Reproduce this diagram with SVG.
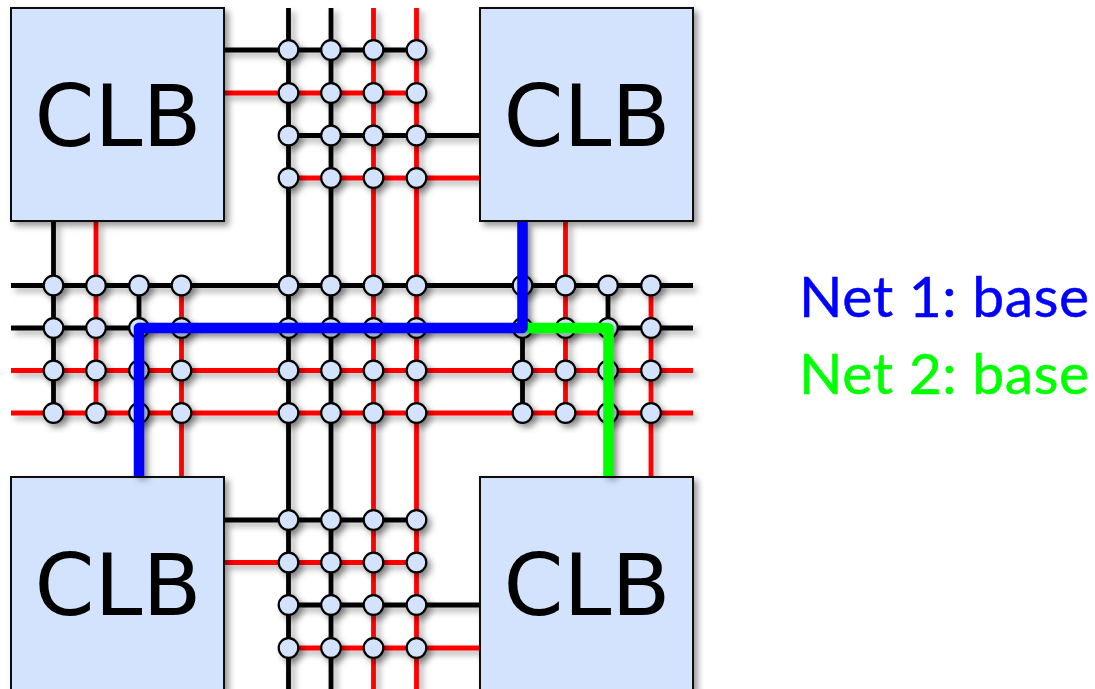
<svg xmlns="http://www.w3.org/2000/svg" width="1095" height="689" viewBox="0 0 1095 689">
<defs>
<filter id="sh" x="-40%" y="-40%" width="190%" height="190%"><feDropShadow dx="4" dy="4" stdDeviation="3" flood-color="#000" flood-opacity="0.4"/></filter>
<filter id="shl" filterUnits="userSpaceOnUse" x="0" y="0" width="1095" height="689"><feDropShadow dx="4" dy="4" stdDeviation="3" flood-color="#000" flood-opacity="0.32"/></filter>
<circle id="j" r="9.8"/>
</defs>
<style>
.k{stroke:#000;stroke-width:4.8;fill:none}
.r{stroke:#f00;stroke-width:4.8;fill:none}
.clb rect{fill:#d3e3fd;stroke:#111;stroke-width:2;filter:url(#sh)}
.clb text{font-family:"DejaVu Sans",sans-serif;font-size:86px;fill:#000;text-anchor:middle}
.sw use{fill:#d3e3fd;stroke:#000;stroke-width:2.2;filter:url(#sh)}
.net{fill:none;stroke-width:10.5;stroke-linejoin:round}
.lab{font-family:Lato,"Open Sans",sans-serif;font-size:57px;stroke-width:0.5}
</style>
<rect width="1095" height="689" fill="#fff"/>
<g id="connectors" filter="url(#shl)">
<path class="k" d="M288.5 8V689M331 8V689M11 285.5H693M11 328H693"/>
<path class="r" d="M373.5 8V689M416.5 8V689M11 370.5H693M11 413H693"/>
<path class="k" d="M224 50H416.5M288.5 135.5H480M224 520H416.5M288.5 605H480M53.500 221V413M139 285.500V477M522.500 221V413M608 285.500V477"/>
<path class="r" d="M224 93H416.500M288.500 178H480M224 562.500H416.500M288.500 648H480M96 221V413M181.500 285.500V477M565.500 221V413M651 285.500V477"/>
</g>
<g id="clb-tl" class="clb"><rect x="11" y="8" width="213" height="213"/><text x="118" y="146">CLB</text></g>
<g id="clb-tr" class="clb"><rect x="480" y="8" width="213" height="213"/><text x="587" y="146">CLB</text></g>
<g id="clb-bl" class="clb"><rect x="11" y="477" width="213" height="213"/><text x="118" y="615">CLB</text></g>
<g id="clb-br" class="clb"><rect x="480" y="477" width="213" height="213"/><text x="587" y="615">CLB</text></g>
<g id="sw-top" class="sw">
<use href="#j" x="288.500" y="50"/><use href="#j" x="331" y="50"/><use href="#j" x="373.500" y="50"/><use href="#j" x="416.500" y="50"/>
<use href="#j" x="288.500" y="93"/><use href="#j" x="331" y="93"/><use href="#j" x="373.500" y="93"/><use href="#j" x="416.500" y="93"/>
<use href="#j" x="288.500" y="135.500"/><use href="#j" x="331" y="135.500"/><use href="#j" x="373.500" y="135.500"/><use href="#j" x="416.500" y="135.500"/>
<use href="#j" x="288.500" y="178"/><use href="#j" x="331" y="178"/><use href="#j" x="373.500" y="178"/><use href="#j" x="416.500" y="178"/>
</g>
<g id="sw-bottom" class="sw">
<use href="#j" x="288.500" y="520"/><use href="#j" x="331" y="520"/><use href="#j" x="373.500" y="520"/><use href="#j" x="416.500" y="520"/>
<use href="#j" x="288.500" y="562.500"/><use href="#j" x="331" y="562.500"/><use href="#j" x="373.500" y="562.500"/><use href="#j" x="416.500" y="562.500"/>
<use href="#j" x="288.500" y="605"/><use href="#j" x="331" y="605"/><use href="#j" x="373.500" y="605"/><use href="#j" x="416.500" y="605"/>
<use href="#j" x="288.500" y="648"/><use href="#j" x="331" y="648"/><use href="#j" x="373.500" y="648"/><use href="#j" x="416.500" y="648"/>
</g>
<g id="sw-left" class="sw">
<use href="#j" x="53.500" y="285.500"/><use href="#j" x="96" y="285.500"/><use href="#j" x="139" y="285.500"/><use href="#j" x="181.500" y="285.500"/>
<use href="#j" x="53.500" y="328"/><use href="#j" x="96" y="328"/><use href="#j" x="139" y="328"/><use href="#j" x="181.500" y="328"/>
<use href="#j" x="53.500" y="370.500"/><use href="#j" x="96" y="370.500"/><use href="#j" x="139" y="370.500"/><use href="#j" x="181.500" y="370.500"/>
<use href="#j" x="53.500" y="413"/><use href="#j" x="96" y="413"/><use href="#j" x="139" y="413"/><use href="#j" x="181.500" y="413"/>
</g>
<g id="sw-center" class="sw">
<use href="#j" x="288.500" y="285.500"/><use href="#j" x="331" y="285.500"/><use href="#j" x="373.500" y="285.500"/><use href="#j" x="416.500" y="285.500"/>
<use href="#j" x="288.500" y="328"/><use href="#j" x="331" y="328"/><use href="#j" x="373.500" y="328"/><use href="#j" x="416.500" y="328"/>
<use href="#j" x="288.500" y="370.500"/><use href="#j" x="331" y="370.500"/><use href="#j" x="373.500" y="370.500"/><use href="#j" x="416.500" y="370.500"/>
<use href="#j" x="288.500" y="413"/><use href="#j" x="331" y="413"/><use href="#j" x="373.500" y="413"/><use href="#j" x="416.500" y="413"/>
</g>
<g id="sw-right" class="sw">
<use href="#j" x="522.500" y="285.500"/><use href="#j" x="565.500" y="285.500"/><use href="#j" x="608" y="285.500"/><use href="#j" x="651" y="285.500"/>
<use href="#j" x="522.500" y="328"/><use href="#j" x="565.500" y="328"/><use href="#j" x="608" y="328"/><use href="#j" x="651" y="328"/>
<use href="#j" x="522.500" y="370.500"/><use href="#j" x="565.500" y="370.500"/><use href="#j" x="608" y="370.500"/><use href="#j" x="651" y="370.500"/>
<use href="#j" x="522.500" y="413"/><use href="#j" x="565.500" y="413"/><use href="#j" x="608" y="413"/><use href="#j" x="651" y="413"/>
</g>
<g id="nets" filter="url(#shl)">
<path id="net2" class="net" stroke="#0f0" d="M526 328H608.500V476"/>
<path id="net1" class="net" stroke="#00f" d="M522.500 222V328H139V476"/>
</g>
<text id="label1" class="lab" x="799" y="317" fill="#00f" stroke="#00f" textLength="290" lengthAdjust="spacing">Net 1: base</text>
<text id="label2" class="lab" x="799" y="394" fill="#0f0" stroke="#0f0" textLength="290" lengthAdjust="spacing">Net 2: base</text>
</svg>
